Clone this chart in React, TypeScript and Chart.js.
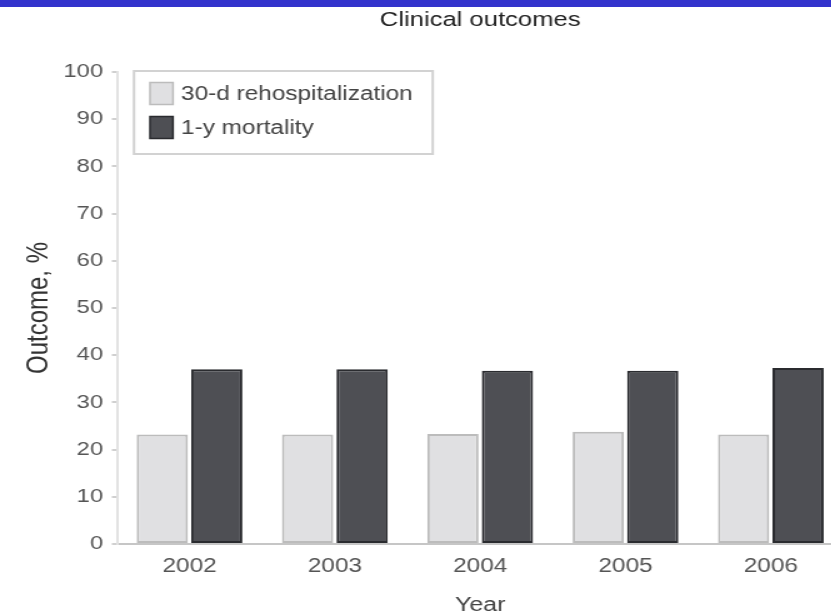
import React, { useEffect, useRef } from "react";
import { Chart, registerables } from "chart.js";

Chart.register(...registerables);

const years = ["2002", "2003", "2004", "2005", "2006"];
const rehospitalization = [23.2, 23.2, 23.3, 23.8, 23.2];
const mortality = [37.0, 37.0, 36.7, 36.7, 37.3];
const seriesLabels = ["30-d rehospitalization", "1-y mortality"];
const chartTitle = "Clinical outcomes";
const xTitle = "Year";
const yTitle = "Outcome, %";

const SX = 1.25;
const CW = 680;
const CH = 620;
const FONT = "'Liberation Sans', Arial, Helvetica, sans-serif";

const insideLegend = {
  id: "insideLegend",
  afterDraw(chart: any) {
    const { ctx, chartArea } = chart;
    const x0 = chartArea.left + 13.7;
    const y0 = chartArea.top - 1;
    const w = 239;
    const h = 83;
    ctx.save();
    ctx.fillStyle = "#ffffff";
    ctx.fillRect(x0, y0, w, h);
    ctx.strokeStyle = "#d2d2d2";
    ctx.lineWidth = 2;
    ctx.strokeRect(x0, y0, w, h);
    ctx.font = `19.5px ${FONT}`;
    ctx.textBaseline = "middle";
    ctx.textAlign = "left";
    chart.data.datasets.forEach((ds: any, i: number) => {
      const cy = y0 + 22.5 + i * 34;
      ctx.fillStyle = ds.backgroundColor;
      ctx.fillRect(x0 + 12.8, cy - 11, 18.4, 22);
      ctx.strokeStyle = ds.borderColor;
      ctx.lineWidth = 1.5;
      ctx.strokeRect(x0 + 12.8, cy - 11, 18.4, 22);
      ctx.fillStyle = "#444444";
      ctx.fillText(ds.label, x0 + 37.6, cy + 1);
    });
    ctx.restore();
  },
};

export default function App() {
  const ref = useRef<HTMLCanvasElement>(null);
  useEffect(() => {
    if (!ref.current) return;
    const chart = new Chart(ref.current, {
      type: "bar",
      data: {
        labels: years,
        datasets: [
          {
            label: seriesLabels[0],
            data: rehospitalization,
            backgroundColor: "#e0e0e2",
            borderColor: "#bcbcbc",
            borderWidth: 2,
            borderSkipped: false,
            categoryPercentage: 0.75,
            barPercentage: 0.94,
          },
          {
            label: seriesLabels[1],
            data: mortality,
            backgroundColor: "#4e4f54",
            borderColor: "#2a2b2f",
            borderWidth: 2,
            borderSkipped: false,
            categoryPercentage: 0.75,
            barPercentage: 0.94,
          },
        ],
      },
      options: {
        animation: false,
        responsive: false,
        layout: { padding: { left: 0, right: CW - 674.8, top: 0, bottom: 0 } },
        plugins: {
          legend: { display: false },
          tooltip: { enabled: false },
          title: {
            display: true,
            text: chartTitle,
            fullSize: false,
            color: "#222222",
            font: { family: FONT, size: 20.5, weight: "normal" },
            padding: { top: 7.7, bottom: 39.7 },
          },
        },
        scales: {
          x: {
            grid: { display: false, drawTicks: false },
            border: { display: true, color: "#c6c6c6", width: 2 },
            ticks: { color: "#555555", font: { family: FONT, size: 19.5 }, padding: 11 },
            title: {
              display: true,
              text: xTitle,
              color: "#444444",
              font: { family: FONT, size: 20 },
              padding: { top: 14, bottom: 2.5 },
            },
            afterFit(s: any) {
              s.height = 76;
            },
          },
          y: {
            min: 0,
            max: 100,
            ticks: { stepSize: 10, color: "#555555", font: { family: FONT, size: 19 }, padding: 7 },
            grid: { drawOnChartArea: false, drawTicks: true, tickLength: 4, color: "#d0d0d0", lineWidth: 2 },
            border: { display: true, color: "#e2e2e2", width: 2 },
            title: {
              display: true,
              text: yTitle,
              color: "#333333",
              font: { family: FONT, size: 24 },
              padding: { top: 16.8, bottom: 0 },
            },
            afterFit(s: any) {
              s.width = 93.5;
            },
          },
        },
      },
      plugins: [insideLegend],
    } as any);
    return () => chart.destroy();
  }, []);

  return (
    <div
      style={{
        position: "fixed",
        left: 0,
        top: 0,
        width: 831,
        height: 616,
        overflow: "hidden",
        background: "#ffffff",
      }}
    >
      <div
        style={{
          position: "absolute",
          left: 0,
          top: 0,
          width: CW,
          height: CH,
          transform: `scaleX(${SX})`,
          transformOrigin: "0 0",
        }}
      >
        <canvas ref={ref} width={CW} height={CH} style={{ display: "block" }} />
      </div>
      <div
        style={{
          position: "absolute",
          left: 0,
          top: 0,
          width: "100%",
          height: 7,
          background: "#3333cc",
        }}
      />
    </div>
  );
}
